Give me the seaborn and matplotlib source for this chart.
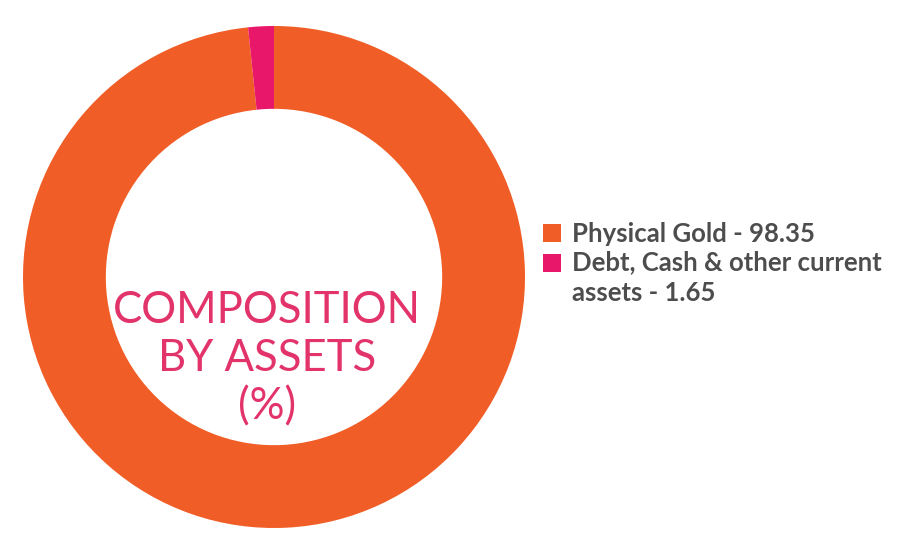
import matplotlib
matplotlib.use('Agg')
import matplotlib.pyplot as plt
import seaborn as sns

# data
labels = ['Physical Gold - 98.35', 'Debt, Cash & other current\nassets - 1.65']
values = [98.35, 1.65]
colors = ['#F15D27', '#E9176A']
center_lines = ['COMPOSITION', 'BY ASSETS', '(%)']

sns.set_style('white')
plt.rcParams['font.family'] = ['Lato', 'DejaVu Sans']

W, H = 900, 544
fig = plt.figure(figsize=(W / 100, H / 100), dpi=100)

# donut axes: centre (274, 277) px, radius 251 px
cx, cy, r = 274, 277, 251
ax = fig.add_axes([(cx - r) / W, (H - cy - r) / H, 2 * r / W, 2 * r / H])
wedges, _ = ax.pie(values, colors=colors, startangle=90, counterclock=False,
                   radius=1, wedgeprops=dict(width=0.33, linewidth=0))
ax.set_xlim(-1, 1)
ax.set_ylim(-1, 1)
ax.set_aspect('equal')
ax.axis('off')

ax.text(-0.028, -0.325, '\n'.join(center_lines), ha='center', va='center',
        fontsize=31.4, color='#E2336B', fontweight='normal', linespacing=1.21,
        transform=ax.transData)

fs = 18.5
ls = 1.35
leg = fig.legend(wedges, labels, loc='upper left',
                 bbox_to_anchor=(543 / W, 1 - 222 / H), frameon=False,
                 fontsize=fs, handlelength=0.7, handleheight=0.7,
                 handletextpad=0.42, labelspacing=0.15,
                 borderpad=0, borderaxespad=0)
for t in leg.get_texts():
    t.set_color('#4D4D4D')
    t.set_fontweight('bold')
    t.set_linespacing(ls)

# put the marker of the wrapped label next to its first line
for h, lab in zip(leg.legend_handles, labels):
    n = lab.count('\n')
    if n:
        h.set_y(h.get_y() + n * 0.45 * ls * fs)

fig.savefig('out.png', dpi=100, facecolor='white')
